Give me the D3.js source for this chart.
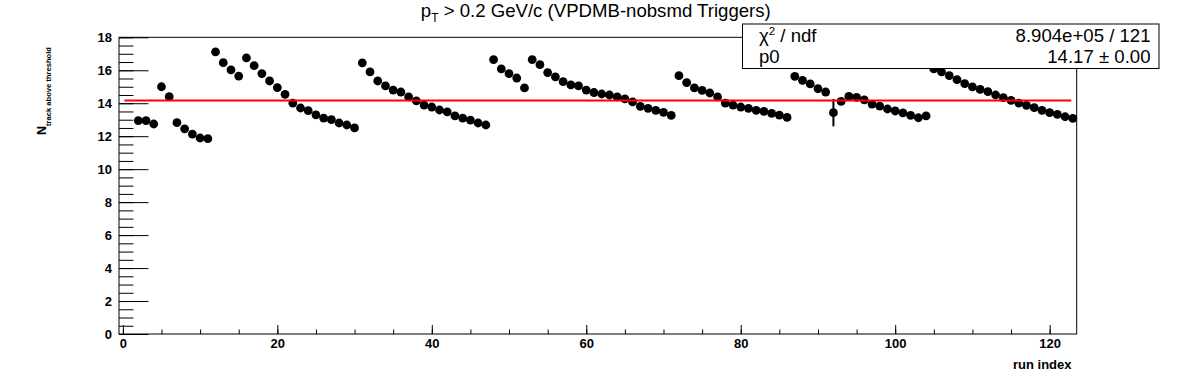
<!DOCTYPE html>
<html>
<head>
<meta charset="utf-8">
<script src="https://cdn.jsdelivr.net/npm/d3@7"></script>
<style>
  html, body { margin: 0; padding: 0; background: #fff; }
  svg { display: block; font-family: "Liberation Sans", Arial, sans-serif; }
</style>
</head>
<body>
<svg id="chart" width="1196" height="372"></svg>
<script>
// ---- data ----
const runIndex = [2,3,4,5,6,7,8,9,10,11,12,13,14,15,16,17,18,19,20,21,22,23,24,25,26,27,28,29,30,
  31,32,33,34,35,36,37,38,39,40,41,42,43,44,45,46,47,48,49,50,51,52,53,54,55,56,57,58,59,60,
  61,62,63,64,65,66,67,68,69,70,71,72,73,74,75,76,77,78,79,80,81,82,83,84,85,86,87,88,89,90,
  91,92,93,94,95,96,97,98,99,100,101,102,103,104,105,106,107,108,109,110,111,112,113,114,115,
  116,117,118,119,120,121,122,123];
const nTrack = [12.94,12.94,12.74,15.00,14.40,12.82,12.45,12.13,11.89,11.85,
  17.11,16.46,16.02,15.65,16.75,16.28,15.80,15.35,14.95,14.54,14.01,13.71,13.55,13.29,13.10,13.00,12.80,12.68,12.50,
  16.45,15.90,15.35,15.05,14.80,14.68,14.38,14.14,13.89,13.77,13.59,13.47,13.23,13.10,12.98,12.80,12.68,
  16.65,16.08,15.80,15.53,14.93,
  16.65,16.34,15.86,15.60,15.31,15.11,15.05,14.80,14.65,14.56,14.50,14.38,14.26,14.08,13.81,13.69,13.57,13.45,13.26,
  15.67,15.25,14.93,14.78,14.62,14.38,14.01,13.89,13.77,13.69,13.57,13.51,13.38,13.28,13.14,
  15.63,15.39,15.17,14.88,14.68,13.43,14.11,14.42,14.36,14.20,13.95,13.83,13.65,13.53,13.41,13.26,13.12,13.23,
  16.08,15.90,15.67,15.43,15.19,14.99,14.84,14.70,14.50,14.34,14.17,14.01,13.87,13.73,13.57,13.43,13.32,13.18,13.08];
// visible error bars (others are hidden inside the markers)
const errRuns = [92];
const errValues = [0.83];
const fitP0 = 14.17;
const fitRange = [0.2, 122.8];
const xTicks = [0,20,40,60,80,100,120];
const yTicks = [0,2,4,6,8,10,12,14,16,18];
const titleMain = "p";
const titleSub = "T";
const titleRest = " > 0.2 GeV/c (VPDMB-nobsmd Triggers)";
const statsLabels = ["χ", "p0"];
const statsValues = ["8.904e+05 / 121", "14.17 ± 0.00"];

// ---- layout ----
const svg = d3.select("#chart");
const L = 119, R = 1076.7, T = 37.3, B = 334;
const x = d3.scaleLinear().domain([-0.5, 123.5]).range([L, R]);
const y = d3.scaleLinear().domain([0, 18]).range([B, T]);

// frame
svg.append("rect").attr("x", L).attr("y", T).attr("width", R - L).attr("height", B - T)
  .attr("fill", "none").attr("stroke", "#000").attr("stroke-width", 1);

// x axis
const xMajor = d3.axisBottom(x).tickValues(xTicks).tickSize(-9).tickPadding(4.3).tickFormat(d3.format("d"));
const xMinor = d3.axisBottom(x).tickValues(d3.range(0, 124, 5)).tickSize(-4.5).tickFormat("");
const gxm = svg.append("g").attr("transform", `translate(0,${B})`).call(xMinor);
const gx = svg.append("g").attr("transform", `translate(0,${B})`).call(xMajor);
[gx, gxm].forEach(g => { g.select(".domain").remove(); g.selectAll("line").attr("stroke", "#000"); });
gx.selectAll("text").attr("font-size", 13).attr("font-weight", "bold").attr("fill", "#000")
  .attr("font-family", "Liberation Sans, Arial, sans-serif");

// y axis
const yMajor = d3.axisLeft(y).tickValues(yTicks).tickSize(-29.5).tickPadding(7).tickFormat(d3.format("d"));
const yMinor = d3.axisLeft(y).tickValues(d3.range(0, 18.01, 0.5)).tickSize(-14.5).tickFormat("");
const gym = svg.append("g").attr("transform", `translate(${L},0)`).call(yMinor);
const gy = svg.append("g").attr("transform", `translate(${L},0)`).call(yMajor);
[gy, gym].forEach(g => { g.select(".domain").remove(); g.selectAll("line").attr("stroke", "#000"); });
gy.selectAll("text").attr("font-size", 13).attr("font-weight", "bold").attr("fill", "#000")
  .attr("font-family", "Liberation Sans, Arial, sans-serif");

// axis titles
svg.append("text").attr("x", 1071.5).attr("y", 369).attr("text-anchor", "end")
  .attr("font-size", 13).attr("font-weight", "bold").text("run index");
const yt = svg.append("text").attr("transform", "translate(45.7,47) rotate(-90)")
  .attr("text-anchor", "end").attr("font-weight", "bold");
yt.append("tspan").attr("font-size", 12.5).text("N");
yt.append("tspan").attr("font-size", 7.6).attr("dy", 5.5).text("track above threshold");

// error bars
const errData = errRuns.map((r, i) => ({ r, v: nTrack[runIndex.indexOf(r)], e: errValues[i] }));
svg.append("g").selectAll("line").data(errData).join("line")
  .attr("x1", d => x(d.r)).attr("x2", d => x(d.r))
  .attr("y1", d => y(d.v - d.e)).attr("y2", d => y(d.v + d.e))
  .attr("stroke", "#000").attr("stroke-width", 2);

// points
svg.append("g").selectAll("circle").data(runIndex).join("circle")
  .attr("cx", d => x(d)).attr("cy", (d, i) => y(nTrack[i])).attr("r", 4.4).attr("fill", "#000");

// fit line
svg.append("line").attr("x1", x(fitRange[0])).attr("x2", x(fitRange[1]))
  .attr("y1", y(fitP0)).attr("y2", y(fitP0)).attr("stroke", "#ff0000").attr("stroke-width", 2);

// title
const tt = svg.append("text").attr("x", 595.8).attr("y", 16.7).attr("text-anchor", "middle").attr("font-size", 18.6);
tt.append("tspan").text(titleMain);
tt.append("tspan").attr("font-size", 12).attr("dy", 5).text(titleSub);
tt.append("tspan").attr("dy", -5).text(titleRest);

// stats box
svg.append("rect").attr("x", 742.5).attr("y", 24).attr("width", 416.5).attr("height", 44.5)
  .attr("fill", "#fff").attr("stroke", "#000").attr("stroke-width", 1);
const s1 = svg.append("text").attr("x", 759).attr("y", 41.8).attr("font-size", 18.6);
s1.append("tspan").text(statsLabels[0]);
s1.append("tspan").attr("font-size", 11.5).attr("dy", -7).text("2");
s1.append("tspan").attr("dy", 7).text(" / ndf");
svg.append("text").attr("x", 759).attr("y", 63.3).attr("font-size", 18.6).text(statsLabels[1]);
statsValues.forEach((s, i) => {
  svg.append("text").attr("x", 1150.5).attr("y", i === 0 ? 41.8 : 63.3).attr("text-anchor", "end")
    .attr("font-size", 18.6).text(s);
});
</script>
</body>
</html>
